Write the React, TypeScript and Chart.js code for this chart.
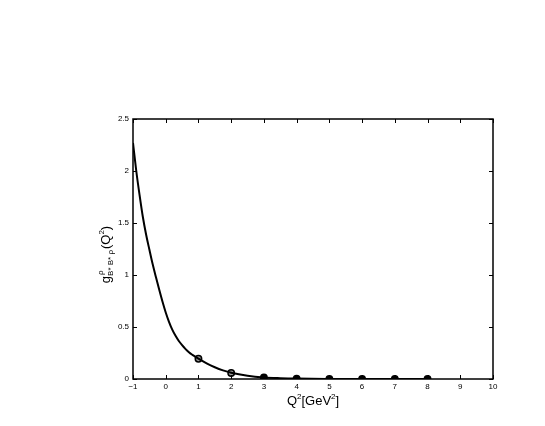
import React, { useEffect, useRef } from "react";
import { Chart, registerables } from "chart.js";

Chart.register(...registerables);

const curveX = [-1, -0.9, -0.8, -0.7, -0.6, -0.5, -0.4, -0.3, -0.2, -0.1, 0, 0.1, 0.2, 0.3, 0.4, 0.5, 0.6, 0.7, 0.8, 0.9, 1, 1.25, 1.5, 1.75, 2, 2.5, 3, 3.5, 4, 5, 6, 7, 8];
const curveY = [2.27, 2.0, 1.77, 1.56, 1.39, 1.245, 1.105, 0.98, 0.86, 0.745, 0.64, 0.55, 0.475, 0.415, 0.365, 0.325, 0.29, 0.26, 0.235, 0.215, 0.195, 0.15, 0.113, 0.083, 0.06, 0.031, 0.015, 0.008, 0.004, 0.001, 0, 0, 0];
const pointX = [1, 2, 3, 4, 5, 6, 7, 8];
const pointY = [0.195, 0.058, 0.015, 0.004, 0.001, 0, 0, 0];
const xTicks = [-1, 0, 1, 2, 3, 4, 5, 6, 7, 8, 9, 10];
const yTicks = [0, 0.5, 1, 1.5, 2, 2.5];

const FONT = "'Liberation Sans', Arial, Helvetica, sans-serif";

const boxPlugin = {
  id: "matlabBox",
  afterDraw(chart: any) {
    const { ctx, chartArea: a, scales } = chart;
    const xs = scales.x;
    const ys = scales.y;
    ctx.save();
    ctx.strokeStyle = "#000";
    ctx.lineWidth = 1.5;
    ctx.strokeRect(a.left, a.top, a.right - a.left, a.bottom - a.top);
    ctx.lineWidth = 1;
    const tl = 4;
    ctx.beginPath();
    for (const v of xTicks) {
      const px = Math.round(xs.getPixelForValue(v)) + 0.5;
      ctx.moveTo(px, a.bottom);
      ctx.lineTo(px, a.bottom - tl);
      ctx.moveTo(px, a.top);
      ctx.lineTo(px, a.top + tl);
    }
    for (const v of yTicks) {
      const py = Math.round(ys.getPixelForValue(v)) + 0.5;
      ctx.moveTo(a.left, py);
      ctx.lineTo(a.left + tl, py);
      ctx.moveTo(a.right, py);
      ctx.lineTo(a.right - tl, py);
    }
    ctx.stroke();

    // x title: Q^2[GeV^2]
    ctx.fillStyle = "#000";
    ctx.textBaseline = "alphabetic";
    ctx.textAlign = "left";
    const big = "13px " + FONT;
    const small = "8px " + FONT;
    const parts: [string, string, number][] = [
      ["Q", big, 0],
      ["2", small, -6],
      ["[GeV", big, 0],
      ["2", small, -6],
      ["]", big, 0],
    ];
    let total = 0;
    for (const [t, f] of parts) {
      ctx.font = f;
      total += ctx.measureText(t).width;
    }
    let cx = (a.left + a.right) / 2 - total / 2;
    const by = 405;
    for (const [t, f, dy] of parts) {
      ctx.font = f;
      ctx.fillText(t, cx, by + dy);
      cx += ctx.measureText(t).width;
    }

    // y title: g^rho_{B*B*rho}(Q^2)
    ctx.translate(110, 255);
    ctx.rotate(-Math.PI / 2);
    ctx.font = big;
    const gW = ctx.measureText("g").width;
    ctx.font = small;
    const supW = ctx.measureText("ρ").width;
    const subT = "B* B* ρ";
    const subW = ctx.measureText(subT).width;
    ctx.font = big;
    const restW = ctx.measureText("(Q").width + ctx.measureText(")").width;
    ctx.font = small;
    const twoW = ctx.measureText("2").width;
    const tw = gW + Math.max(supW, subW) + restW + twoW;
    let x0 = -tw / 2;
    ctx.font = big;
    ctx.fillText("g", x0, 0);
    x0 += gW;
    ctx.font = small;
    ctx.fillText("ρ", x0 + 1, -7);
    ctx.fillText(subT, x0, 3);
    x0 += Math.max(supW, subW) + 1;
    ctx.font = big;
    ctx.fillText("(Q", x0, 0);
    x0 += ctx.measureText("(Q").width;
    ctx.font = small;
    ctx.fillText("2", x0, -6);
    x0 += twoW;
    ctx.font = big;
    ctx.fillText(")", x0, 0);
    ctx.restore();
  },
};

export default function App() {
  const ref = useRef<HTMLCanvasElement | null>(null);
  useEffect(() => {
    const canvas = ref.current;
    if (!canvas) return;
    const chart = new Chart(canvas, {
      type: "line",
      data: {
        datasets: [
          {
            label: "curve",
            data: curveX.map((x, i) => ({ x, y: curveY[i] })),
            borderColor: "#000",
            borderWidth: 2,
            pointRadius: 0,
            cubicInterpolationMode: "monotone",
            fill: false,
          } as any,
          {
            label: "points",
            data: pointX.map((x, i) => ({ x, y: pointY[i] })),
            showLine: false,
            pointRadius: 3.2,
            borderWidth: 1.5,
            borderColor: "#000",
            pointBackgroundColor: (c: any) => (c.dataIndex < 2 ? "#9a9a9a" : "#000"),
          } as any,
        ],
      },
      options: {
        responsive: false,
        animation: false,
        devicePixelRatio: 1,
        layout: { padding: { left: 0, top: 119, right: 52, bottom: 0 } },
        plugins: { legend: { display: false }, tooltip: { enabled: false } },
        scales: {
          x: {
            type: "linear",
            min: -1,
            max: 10,
            afterBuildTicks: (s: any) => {
              s.ticks = xTicks.map((v) => ({ value: v }));
            },
            afterFit: (s: any) => {
              s.height = 47;
            },
            grid: { display: false, drawTicks: false },
            border: { display: false },
            ticks: {
              color: "#000",
              font: { family: FONT, size: 8 },
              padding: 3,
              maxRotation: 0,
              autoSkip: false,
              callback: (v: any) => (v < 0 ? "\u2212" + Math.abs(v) : String(v)),
            },
          },
          y: {
            type: "linear",
            min: 0,
            max: 2.5,
            afterBuildTicks: (s: any) => {
              s.ticks = yTicks.map((v) => ({ value: v }));
            },
            afterFit: (s: any) => {
              s.width = 133;
            },
            grid: { display: false, drawTicks: false },
            border: { display: false },
            ticks: {
              color: "#000",
              font: { family: FONT, size: 8 },
              padding: 4,
              autoSkip: false,
              callback: (v: any) => String(v),
            },
          },
        },
      },
      plugins: [boxPlugin],
    });
    return () => chart.destroy();
  }, []);
  return (
    <div style={{ position: "fixed", left: 0, top: 0, width: 545, height: 426, background: "#fff" }}>
      <canvas ref={ref} width={545} height={426} style={{ display: "block" }} />
    </div>
  );
}
